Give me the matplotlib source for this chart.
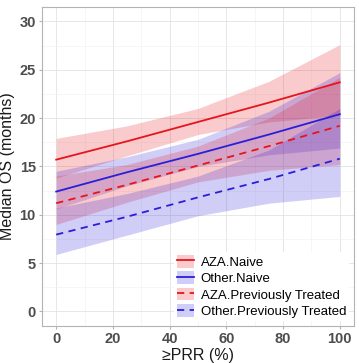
import numpy as np
import matplotlib.pyplot as plt
from matplotlib.lines import Line2D
from matplotlib.patches import Patch

plt.rcParams['font.family'] = ['Liberation Sans', 'DejaVu Sans']

# data
prr = [0, 25, 50, 75, 100]

aza_naive = [15.7, 17.6, 19.6, 21.6, 23.7]
aza_naive_hi = [17.9, 19.2, 21.0, 23.8, 27.6]
aza_naive_lo = [13.8, 16.1, 18.3, 19.6, 20.3]

oth_naive = [12.4, 14.4, 16.3, 18.3, 20.4]
oth_naive_hi = [14.5, 16.0, 17.8, 20.7, 24.7]
oth_naive_lo = [10.6, 13.0, 15.0, 16.2, 16.9]

aza_prev = [11.2, 13.1, 15.1, 17.1, 19.2]
aza_prev_hi = [14.0, 15.2, 17.1, 20.0, 24.2]
aza_prev_lo = [9.0, 11.3, 13.4, 14.6, 15.2]

oth_prev = [7.95, 9.8, 11.8, 13.7, 15.8]
oth_prev_hi = [10.7, 12.2, 14.0, 16.7, 21.0]
oth_prev_lo = [5.9, 7.9, 9.9, 11.2, 11.9]

labels = ["AZA.Naive", "Other.Naive", "AZA.Previously Treated", "Other.Previously Treated"]

red = "#e8141c"
blue = "#2a1fd8"

fig = plt.figure(figsize=(3.59, 3.63), dpi=100)
ax = fig.add_axes([0.117, 0.102, 0.869, 0.879])

series = [
    (aza_naive, aza_naive_lo, aza_naive_hi, red, "-"),
    (oth_naive, oth_naive_lo, oth_naive_hi, blue, "-"),
    (aza_prev, aza_prev_lo, aza_prev_hi, red, (0, (4, 3))),
    (oth_prev, oth_prev_lo, oth_prev_hi, blue, (0, (4, 3))),
]

for y, lo, hi, c, ls in series:
    ax.fill_between(prr, lo, hi, color=c, alpha=0.22, lw=0)
for y, lo, hi, c, ls in series:
    ax.plot(prr, y, color=c, lw=1.3, linestyle=ls)

ax.set_xlim(-5, 105)
ax.set_ylim(-1.5, 31.5)
ax.set_xticks([0, 20, 40, 60, 80, 100])
ax.set_yticks([0, 5, 10, 15, 20, 25, 30])
ax.set_xticks([10, 30, 50, 70, 90], minor=True)
ax.set_yticks([2.5, 7.5, 12.5, 17.5, 22.5, 27.5], minor=True)
ax.grid(True, which="major", color="#e3e3e3", lw=0.6)
ax.grid(True, which="minor", color="#f0f0f0", lw=0.4)
ax.set_axisbelow(True)
for s in ax.spines.values():
    s.set_color("#b3b3b3")
    s.set_linewidth(0.8)
ax.tick_params(which="major", length=2.5, color="#b3b3b3", labelsize=10.5,
               labelcolor="#4d4d4d", pad=2)
ax.tick_params(which="minor", length=0)
for t in ax.get_xticklabels() + ax.get_yticklabels():
    t.set_fontweight("bold")

ax.set_xlabel("≥PRR (%)", fontsize=11.5, color="#1a1a1a", labelpad=1)
ax.set_ylabel("Median OS (months)", fontsize=11.5, color="#1a1a1a", labelpad=3)

handles = []
for y, lo, hi, c, ls in series:
    handles.append((Patch(facecolor=c, alpha=0.22, lw=0),
                    Line2D([], [], color=c, lw=1.3, linestyle=ls)))
leg = ax.legend(handles, labels, loc="lower right", fontsize=9.5,
                frameon=True, framealpha=1, edgecolor="none",
                handlelength=1.3, handleheight=1.1, handletextpad=0.5,
                labelspacing=0.2, borderaxespad=0.4, borderpad=0.2)

fig.savefig("out.png", dpi=100)
